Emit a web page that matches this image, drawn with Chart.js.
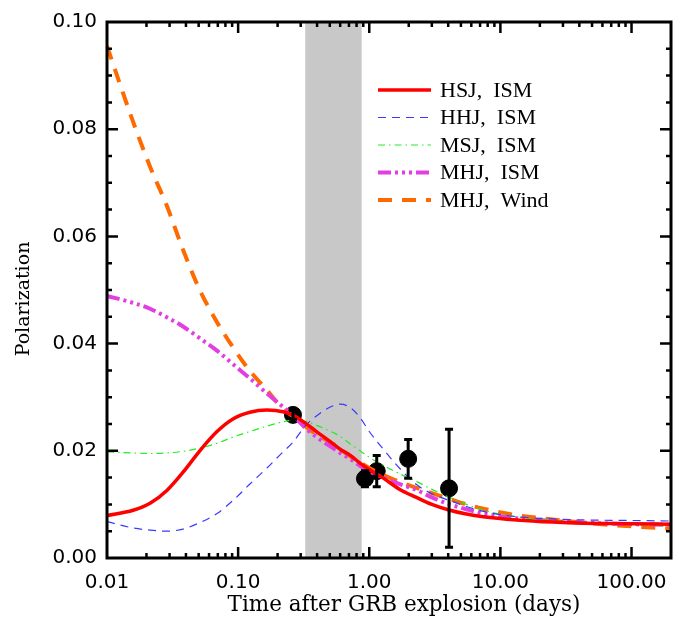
<!DOCTYPE html>
<html>
<head>
<meta charset="utf-8">
<script src="https://cdn.jsdelivr.net/npm/chart.js@4.4.0/dist/chart.umd.min.js"></script>
<style>
  html, body { margin: 0; padding: 0; background: #fff; }
  #wrap { width: 692px; height: 629px; }
</style>
</head>
<body>
<div id="wrap"><canvas id="myChart" width="692" height="629"></canvas></div>
<script>
// time grid (days) the model curves were read at
var days = [0.01, 0.0158, 0.0213, 0.0286, 0.038, 0.051, 0.069, 0.092, 0.123, 0.166, 0.22, 0.26,
  0.324, 0.4, 0.53, 0.6, 0.713, 0.85, 1.0, 1.28, 1.71, 2.29, 3.0, 4.12, 5.5, 7.4, 13.3, 25, 42.8, 100, 200];

var hsjIsm = [0.0079, 0.0089, 0.0102, 0.0126, 0.0160, 0.0200, 0.0236, 0.0260, 0.0272, 0.0276, 0.0273, 0.0267,
  0.0252, 0.0235, 0.0213, 0.0203, 0.0192, 0.0177, 0.0165, 0.0149, 0.0128, 0.0113, 0.0100, 0.0089, 0.0082, 0.0077, 0.0071, 0.0067, 0.0065, 0.0064, 0.0063];
var hhjIsm = [0.0068, 0.0056, 0.0052, 0.0050, 0.0054, 0.0066, 0.0083, 0.0108, 0.0138, 0.0168, 0.0198, 0.0215,
  0.0246, 0.0266, 0.0284, 0.0287, 0.0281, 0.0262, 0.0236, 0.0203, 0.0167, 0.0137, 0.0120, 0.0107, 0.0096, 0.0087, 0.0077, 0.0073, 0.0071, 0.0070, 0.0069];
var msjIsm = [0.0198, 0.0196, 0.0195, 0.0196, 0.0199, 0.0205, 0.0214, 0.0226, 0.0236, 0.0246, 0.0254, 0.0257,
  0.0255, 0.0247, 0.0234, 0.0227, 0.0213, 0.0200, 0.0188, 0.0173, 0.0157, 0.0143, 0.0128, 0.0113, 0.0100, 0.0089, 0.0077, 0.0070, 0.0066, 0.0062, 0.0060];
var mhjIsm = [0.0489, 0.0476, 0.0465, 0.0449, 0.0432, 0.0410, 0.0387, 0.0361, 0.0335, 0.0307, 0.0282, 0.0268,
  0.0243, 0.0225, 0.0205, 0.0196, 0.0185, 0.0172, 0.0162, 0.0150, 0.0138, 0.0127, 0.0113, 0.0100, 0.0091, 0.0083, 0.0074, 0.0069, 0.0066, 0.0063, 0.0062];
var mhjWind = [0.0955, 0.0814, 0.0730, 0.0657, 0.0575, 0.0500, 0.0440, 0.0392, 0.0349, 0.0313, 0.0278, 0.0265,
  0.0246, 0.0230, 0.0213, 0.0203, 0.0190, 0.0179, 0.0168, 0.0155, 0.0142, 0.0131, 0.0121, 0.0110, 0.0100, 0.0092, 0.0080, 0.0072, 0.0066, 0.0059, 0.0055];

// observed polarization
var obsDays = [0.262, 0.927, 1.14, 1.98, 4.06];
var obsPol = [0.0267, 0.0148, 0.0162, 0.0185, 0.0130];
var obsErr = [0.0008, 0.0015, 0.0029, 0.0036, 0.0110];

// shaded interval (days)
var shadeFrom = 0.325, shadeTo = 0.875;

var xTickValues = [0.01, 0.1, 1, 10, 100];
var xTickLabels = ['0.01', '0.10', '1.00', '10.00', '100.00'];
var yTickValues = [0, 0.02, 0.04, 0.06, 0.08, 0.10];

function pts(ys){
  return days.map(function(d, i){ return {x: d, y: ys[i]}; });
}

function line(label, ys, color, width, dash){
  return {
    type: 'line', label: label, data: pts(ys),
    borderColor: color, backgroundColor: color, borderWidth: width, borderDash: dash,
    pointRadius: 0, cubicInterpolationMode: 'monotone', fill: false
  };
}

var datasets = [
  line('HSJ,  ISM', hsjIsm, '#ff0000', 3.5, []),
  line('HHJ,  ISM', hhjIsm, '#3a3aff', 1.2, [8, 6]),
  line('MSJ,  ISM', msjIsm, '#22ee22', 1.2, [7, 4, 1.5, 4]),
  line('MHJ,  ISM', mhjIsm, '#e23ee2', 4, [13, 4, 3, 4, 3, 4, 3, 4]),
  line('MHJ,  Wind', mhjWind, '#ff6a00', 4, [14, 10]),
  {
    type: 'scatter', label: 'obs',
    data: obsDays.map(function(d, i){ return {x: d, y: obsPol[i]}; }),
    pointRadius: 8.5, pointBackgroundColor: '#000', pointBorderColor: '#000', showLine: false
  }
];

var idlFrame = {
  id: 'idlFrame',
  beforeDatasetsDraw: function(chart){
    var c = chart.ctx, a = chart.chartArea, x = chart.scales.x;
    c.save();
    c.fillStyle = '#c8c8c8';
    var x0 = x.getPixelForValue(shadeFrom), x1 = x.getPixelForValue(shadeTo);
    c.fillRect(x0, a.top, x1 - x0, a.bottom - a.top);
    c.restore();
  },
  afterDatasetsDraw: function(chart){
    var c = chart.ctx, x = chart.scales.x, y = chart.scales.y;
    c.save();
    c.strokeStyle = '#000';
    c.lineWidth = 3;
    for (var i = 0; i < obsDays.length; i++){
      var px = x.getPixelForValue(obsDays[i]);
      var top = y.getPixelForValue(obsPol[i] + obsErr[i]);
      var bot = y.getPixelForValue(obsPol[i] - obsErr[i]);
      c.beginPath();
      c.moveTo(px, top); c.lineTo(px, bot);
      c.moveTo(px - 4, top); c.lineTo(px + 4, top);
      c.moveTo(px - 4, bot); c.lineTo(px + 4, bot);
      c.stroke();
    }
    c.restore();
  },
  afterDraw: function(chart){
    var c = chart.ctx, a = chart.chartArea, x = chart.scales.x, y = chart.scales.y;
    c.save();
    c.strokeStyle = '#000';
    c.lineWidth = 3;
    c.strokeRect(a.left, a.top, a.right - a.left, a.bottom - a.top);
    c.lineWidth = 2.5;
    c.beginPath();
    // x ticks, log decades with 2..9 minors
    for (var e = -2; e <= 2; e++){
      for (var m = 1; m <= 9; m++){
        var v = m * Math.pow(10, e);
        if (v < 0.01 || v > 200) continue;
        var px = x.getPixelForValue(v);
        var len = m === 1 ? 11 : 5;
        if (px <= a.left + 1 || px >= a.right - 1) continue;
        c.moveTo(px, a.bottom); c.lineTo(px, a.bottom - len);
        c.moveTo(px, a.top); c.lineTo(px, a.top + len);
      }
    }
    // y ticks every 0.005
    for (var k = 1; k < 20; k++){
      var py = y.getPixelForValue(k * 0.005);
      var ly = k % 4 === 0 ? 11 : 5;
      c.moveTo(a.left, py); c.lineTo(a.left + ly, py);
      c.moveTo(a.right, py); c.lineTo(a.right - ly, py);
    }
    c.stroke();

    // axis titles
    c.fillStyle = '#000';
    c.font = '21.5px "DejaVu Serif"';
    c.textAlign = 'center';
    c.textBaseline = 'middle';
    c.fillText('Time after GRB explosion (days)', 404, 605);
    c.save();
    c.translate(24, 299);
    c.rotate(-Math.PI / 2);
    c.font = '19px "DejaVu Serif"';
    c.fillText('Polarization', 0, 0);
    c.restore();

    // legend
    var ly0 = 90, dy = 27.5;
    c.font = '22px "Liberation Serif"';
    c.textAlign = 'left';
    for (var i = 0; i < 5; i++){
      var ds = chart.data.datasets[i];
      var yy = ly0 + i * dy;
      c.save();
      c.strokeStyle = ds.borderColor;
      c.lineWidth = ds.borderWidth;
      c.setLineDash(ds.borderDash);
      c.beginPath();
      c.moveTo(378, yy); c.lineTo(431, yy);
      c.stroke();
      c.restore();
      c.fillText(ds.label, 440, yy + 1);
    }
    c.restore();
  }
};

var myChart = new Chart(document.getElementById('myChart'), {
  type: 'line',
  data: { datasets: datasets },
  options: {
    responsive: false,
    animation: false,
    layout: { padding: { top: 7, right: 21, left: 0, bottom: 0 } },
    plugins: { legend: { display: false }, tooltip: { enabled: false } },
    scales: {
      x: {
        type: 'logarithmic', min: 0.01, max: 200,
        grid: { display: false, drawTicks: false },
        border: { display: false },
        afterBuildTicks: function(scale){
          scale.ticks = xTickValues.map(function(v){ return {value: v}; });
        },
        afterFit: function(scale){ scale.height = 71; },
        ticks: {
          autoSkip: false, maxRotation: 0, padding: 13, color: '#000',
          font: { family: 'DejaVu Sans', size: 20 },
          callback: function(v){
            var i = xTickValues.indexOf(v);
            return i >= 0 ? xTickLabels[i] : '';
          }
        }
      },
      y: {
        min: 0, max: 0.1,
        grid: { display: false, drawTicks: false },
        border: { display: false },
        afterBuildTicks: function(scale){
          scale.ticks = yTickValues.map(function(v){ return {value: v}; });
        },
        afterFit: function(scale){ scale.width = 107; },
        ticks: {
          padding: 10, color: '#000',
          font: { family: 'DejaVu Sans', size: 20 },
          callback: function(v){ return Number(v).toFixed(2); }
        }
      }
    }
  },
  plugins: [idlFrame]
});
</script>
</body>
</html>
